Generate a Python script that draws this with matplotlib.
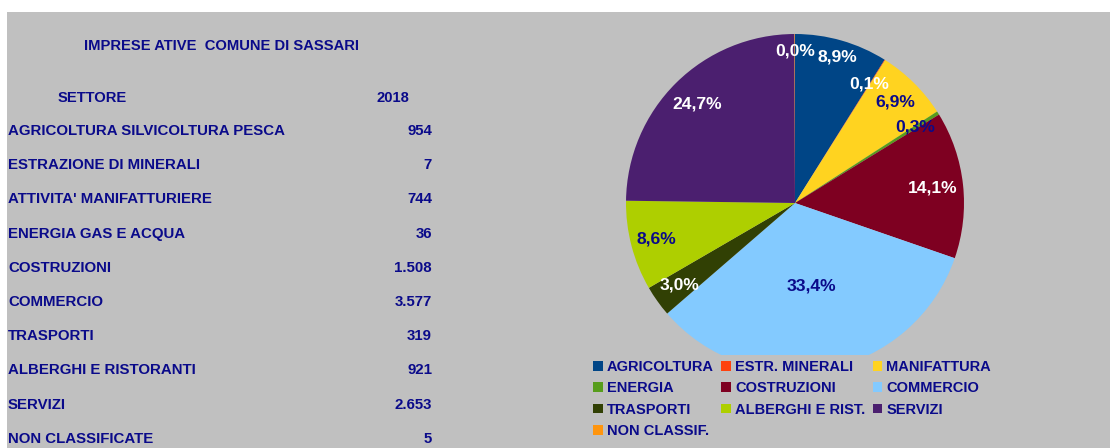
import matplotlib
matplotlib.use('Agg')
import matplotlib.pyplot as plt
from matplotlib.patches import Rectangle
import numpy as np

plt.rcParams['font.family'] = ['Liberation Sans', 'DejaVu Sans']
plt.rcParams['font.weight'] = 'bold'

title = 'IMPRESE ATIVE  COMUNE DI SASSARI'
year = '2018'
settori = ['AGRICOLTURA SILVICOLTURA PESCA', 'ESTRAZIONE DI MINERALI',
           "ATTIVITA' MANIFATTURIERE", 'ENERGIA GAS E ACQUA', 'COSTRUZIONI',
           'COMMERCIO', 'TRASPORTI', 'ALBERGHI E RISTORANTI', 'SERVIZI',
           'NON CLASSIFICATE']
imprese = [954, 7, 744, 36, 1508, 3577, 319, 921, 2653, 5]
legend_names = ['AGRICOLTURA', 'ESTR. MINERALI', 'MANIFATTURA', 'ENERGIA',
                'COSTRUZIONI', 'COMMERCIO', 'TRASPORTI', 'ALBERGHI E RIST.',
                'SERVIZI', 'NON CLASSIF.']
colors = ['#004586', '#ff420e', '#ffd320', '#579d1c', '#7e0021',
          '#83caff', '#314004', '#aecf00', '#4b1f6f', '#ff950e']
label_colors = ['white', 'white', '#0a0a8a', '#0a0a8a', 'white',
                '#0a0a8a', 'white', '#0a0a8a', 'white', 'white']
label_r = [0.9, 0.83, 0.84, 0.84, 0.82, 0.5, 0.84, 0.85, 0.82, 0.9]

navy = '#0a0a8a'
bg = '#c0c0c0'
W, H = 1111, 448

fig = plt.figure(figsize=(W / 100, H / 100), dpi=100, facecolor='white')
fig.patches.append(Rectangle((7 / W, 0), (1110 - 7) / W, (H - 12) / H,
                             transform=fig.transFigure, facecolor=bg,
                             edgecolor='none', zorder=-10))

# table on the left
def fy(py):
    return 1 - py / H

fig.text(222 / W, fy(46), title, color=navy, fontsize=10.6, ha='center', va='center')
fig.text(92 / W, fy(98), 'SETTORE', color=navy, fontsize=10.6, ha='center', va='center')
fig.text(409 / W, fy(98), year, color=navy, fontsize=10.6, ha='right', va='center')
for i, (s, v) in enumerate(zip(settori, imprese)):
    y = 131 + i * 34.2
    fig.text(8 / W, fy(y), s, color=navy, fontsize=10.85, ha='left', va='center')
    fig.text(432 / W, fy(y), f'{v:,}'.replace(',', '.'), color=navy,
             fontsize=10.85, ha='right', va='center')

# pie
cx, cy, r = 795, 203, 169
ax = fig.add_axes([(cx - r) / W, (H - cy - r) / H, 2 * r / W, 2 * r / H])
ax.set_facecolor(bg)
wedges, _ = ax.pie(imprese, colors=colors, startangle=90, counterclock=False,
                   radius=1, wedgeprops=dict(linewidth=0))
total = sum(imprese)
for w, v, c, d in zip(wedges, imprese, label_colors, label_r):
    ang = np.deg2rad((w.theta1 + w.theta2) / 2)
    txt = f'{v / total * 100:.1f}'.replace('.', ',') + '%'
    ax.text(d * np.cos(ang), d * np.sin(ang), txt, color=c, fontsize=12.6,
            ha='center', va='center')
ax.set_xlim(-1, 1)
ax.set_ylim(-1, 1)
ax.axis('off')

order = [0, 3, 6, 9, 1, 4, 7, 2, 5, 8]
leg = fig.legend([wedges[i] for i in order], [legend_names[i] for i in order],
                 ncol=3, loc='upper left', bbox_to_anchor=(588 / W, fy(355)),
                 frameon=True, facecolor=bg, edgecolor='none', framealpha=1,
                 fancybox=False, fontsize=10.5, handlelength=0.65, handleheight=0.65,
                 handletextpad=0.3, columnspacing=0.5, labelspacing=0.5,
                 borderpad=0.35, borderaxespad=0)
for t in leg.get_texts():
    t.set_color(navy)

fig.savefig('out.png', dpi=100, facecolor='white')
